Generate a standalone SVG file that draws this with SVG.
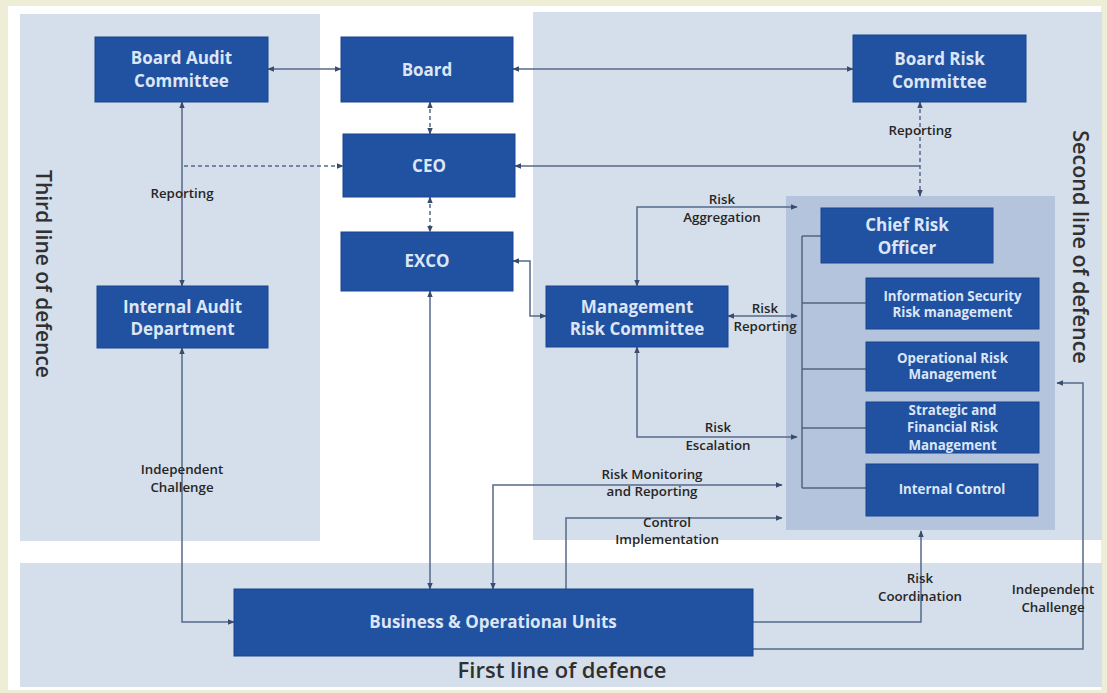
<svg xmlns="http://www.w3.org/2000/svg" width="1107" height="693" viewBox="0 0 1107 693">
<defs>
<style>
.nd{fill:#2151a1;stroke:#1b4590;stroke-width:1}
.nt{font-family:"Open Sans","Liberation Sans",sans-serif;font-weight:700;fill:#dce6f6;text-anchor:middle}
.big{font-size:17px}
.sm{font-size:13.3px}
.lb{font-family:"Open Sans","Liberation Sans",sans-serif;font-weight:600;font-size:13.3px;fill:#262626;text-anchor:middle}
.ln{font-family:"Open Sans","Liberation Sans",sans-serif;font-weight:600;fill:#303030;text-anchor:middle}
.c{fill:none;stroke:#56698a;stroke-width:1.5}
.d{stroke-dasharray:4 3}
.t{fill:none;stroke:#55647f;stroke-width:1.5}
</style>
<marker id="a" viewBox="0 0 10 10" refX="9" refY="5" markerWidth="7" markerHeight="7" markerUnits="userSpaceOnUse" orient="auto-start-reverse"><path d="M0,1 L10,5 L0,9 z" fill="#3a4c6e"/></marker>
</defs>
<rect x="0" y="0" width="1107" height="693" fill="#eeeed6"/>
<rect x="8" y="6" width="1093" height="684" fill="#ffffff"/>
<g id="panels">
<rect x="20" y="14" width="300" height="527" fill="#d5deeb"/>
<rect x="533" y="12" width="569" height="528" fill="#d5deeb"/>
<rect x="20" y="563" width="1082" height="124" fill="#d5deeb"/>
<rect x="786" y="196" width="269" height="334" fill="#b4c4dc"/>
</g>
<g id="lines-of-defence">
<text class="ln" font-size="21" transform="translate(44,274) rotate(90)" dominant-baseline="central">Third line of defence</text>
<text class="ln" font-size="21.5" transform="translate(1081,247) rotate(90)" dominant-baseline="central">Second line of defence</text>
<text class="ln" font-size="22" x="562" y="678">First line of defence</text>
</g>
<g id="connectors">
<path class="c" d="M268,69 H341" marker-start="url(#a)" marker-end="url(#a)"/>
<path class="c" d="M513,69 H853" marker-start="url(#a)" marker-end="url(#a)"/>
<path class="c d" d="M430,102 V134" marker-start="url(#a)" marker-end="url(#a)"/>
<path class="c d" d="M430,197 V232" marker-start="url(#a)" marker-end="url(#a)"/>
<path class="c" d="M430,291 V589" marker-start="url(#a)" marker-end="url(#a)"/>
<path class="c" d="M182,102 V286" marker-start="url(#a)" marker-end="url(#a)"/>
<path class="c d" d="M184,166 H343" marker-end="url(#a)"/>
<path class="c" d="M182,348 V622 H234" marker-start="url(#a)" marker-end="url(#a)"/>
<path class="c" d="M920,166 H515" marker-end="url(#a)"/>
<path class="c d" d="M920,102 V196" marker-start="url(#a)" marker-end="url(#a)"/>
<path class="c" d="M513,261 H530 V316 H546" marker-start="url(#a)" marker-end="url(#a)"/>
<path class="c" d="M637,286 V207 H797" marker-start="url(#a)" marker-end="url(#a)"/>
<path class="c" d="M728,316 H797" marker-start="url(#a)" marker-end="url(#a)"/>
<path class="c" d="M637,347 V437 H797" marker-start="url(#a)" marker-end="url(#a)"/>
<path class="t" d="M802,236 V488 M802,236 H821 M802,303 H866 M802,369 H866 M802,428 H866 M802,488 H866"/>
<path class="c" d="M493,589 V485 H782" marker-start="url(#a)" marker-end="url(#a)"/>
<path class="c" d="M566,589 V518 H782" marker-end="url(#a)"/>
<path class="c" d="M753,622 H921 V531" marker-end="url(#a)"/>
<path class="c" d="M753,649 H1083 V383 H1057" marker-end="url(#a)"/>
</g>
<g id="labels">
<text class="lb" x="182" y="198">Reporting</text>
<text class="lb" x="920" y="135">Reporting</text>
<text class="lb" x="722" y="204">Risk</text>
<text class="lb" x="722" y="222">Aggregation</text>
<text class="lb" x="765" y="313">Risk</text>
<text class="lb" x="765" y="331">Reporting</text>
<text class="lb" x="718" y="432">Risk</text>
<text class="lb" x="718" y="450">Escalation</text>
<text class="lb" x="652" y="479">Risk Monitoring</text>
<text class="lb" x="652" y="496">and Reporting</text>
<text class="lb" x="667" y="527">Control</text>
<text class="lb" x="667" y="544">Implementation</text>
<text class="lb" x="920" y="583">Risk</text>
<text class="lb" x="920" y="601">Coordination</text>
<text class="lb" x="1053" y="594">Independent</text>
<text class="lb" x="1053" y="612">Challenge</text>
<text class="lb" x="182" y="474">Independent</text>
<text class="lb" x="182" y="492">Challenge</text>
</g>
<g id="board-audit-committee"><rect class="nd" x="95" y="37" width="173" height="65"/><text class="nt big" x="181.5" y="64">Board Audit</text><text class="nt big" x="181.5" y="87">Committee</text></g>
<g id="board"><rect class="nd" x="341" y="37" width="172" height="65"/><text class="nt big" x="427" y="76">Board</text></g>
<g id="board-risk-committee"><rect class="nd" x="853" y="35" width="173" height="67"/><text class="nt big" x="939.5" y="64.5">Board Risk</text><text class="nt big" x="939.5" y="87.5">Committee</text></g>
<g id="ceo"><rect class="nd" x="343" y="134" width="172" height="63"/><text class="nt big" x="429" y="172">CEO</text></g>
<g id="exco"><rect class="nd" x="341" y="232" width="172" height="59"/><text class="nt big" x="427" y="267">EXCO</text></g>
<g id="internal-audit-department"><rect class="nd" x="97" y="286" width="171" height="62"/><text class="nt big" x="182.5" y="313">Internal Audit</text><text class="nt big" x="182.5" y="335">Department</text></g>
<g id="management-risk-committee"><rect class="nd" x="546" y="286" width="182" height="61"/><text class="nt big" x="637" y="313">Management</text><text class="nt big" x="637" y="335">Risk Committee</text></g>
<g id="chief-risk-officer"><rect class="nd" x="821" y="208" width="172" height="55"/><text class="nt big" x="907" y="231">Chief Risk</text><text class="nt big" x="907" y="254">Officer</text></g>
<g id="information-security"><rect class="nd" x="866" y="278" width="173" height="51"/><text class="nt sm" x="952.5" y="301">Information Security</text><text class="nt sm" x="952.5" y="317">Risk management</text></g>
<g id="operational-risk"><rect class="nd" x="866" y="342" width="173" height="49"/><text class="nt sm" x="952.5" y="363">Operational Risk</text><text class="nt sm" x="952.5" y="379">Management</text></g>
<g id="strategic-financial-risk"><rect class="nd" x="866" y="402" width="173" height="51"/><text class="nt sm" x="952.5" y="415">Strategic and</text><text class="nt sm" x="952.5" y="432">Financial Risk</text><text class="nt sm" x="952.5" y="449.5">Management</text></g>
<g id="internal-control"><rect class="nd" x="866" y="464" width="172" height="52"/><text class="nt sm" x="952" y="494">Internal Control</text></g>
<g id="business-operational-units"><rect class="nd" x="234" y="589" width="519" height="67"/><text class="nt big" x="493" y="628" font-size="17.5">Business &amp; Operationaı Units</text></g>
</svg>
